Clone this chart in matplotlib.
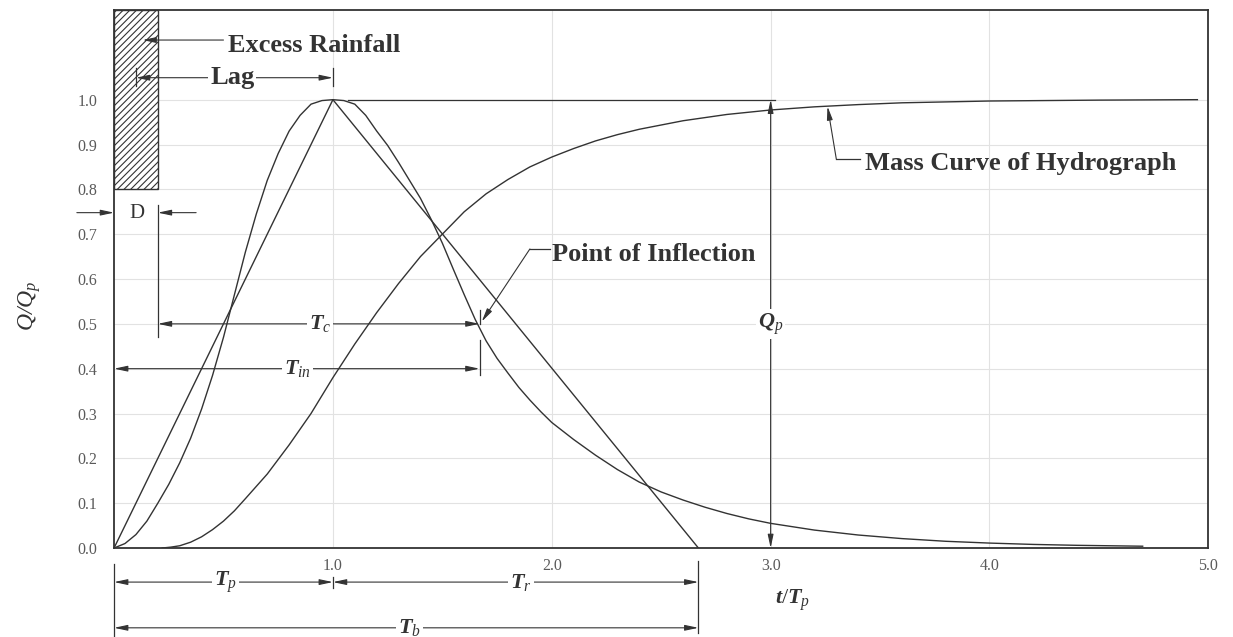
import matplotlib

matplotlib.use("Agg")
import matplotlib.pyplot as plt
from matplotlib.patches import Rectangle

# curvilinear dimensionless unit hydrograph
hydro_t = [0.0, 0.05, 0.1, 0.15, 0.2, 0.25, 0.3, 0.35, 0.4, 0.45, 0.5, 0.55,
           0.6, 0.65, 0.7, 0.75, 0.8, 0.85, 0.9, 0.95, 1.0, 1.05, 1.1, 1.15,
           1.2, 1.25, 1.3, 1.35, 1.4, 1.45, 1.5, 1.55, 1.6, 1.65, 1.7, 1.75,
           1.8, 1.85, 1.9, 1.95, 2.0, 2.1, 2.2, 2.3, 2.4, 2.5, 2.6, 2.7, 2.8,
           2.9, 3.0, 3.2, 3.4, 3.6, 3.8, 4.0, 4.2, 4.4, 4.7]
hydro_q = [0.0, 0.01, 0.03, 0.06, 0.10, 0.142, 0.19, 0.245, 0.31, 0.385,
           0.47, 0.565, 0.66, 0.745, 0.82, 0.88, 0.93, 0.965, 0.99, 0.998,
           1.0, 0.998, 0.99, 0.965, 0.93, 0.898, 0.86, 0.82, 0.78, 0.732,
           0.68, 0.622, 0.565, 0.51, 0.462, 0.423, 0.39, 0.358, 0.33, 0.304,
           0.28, 0.242, 0.207, 0.175, 0.147, 0.125, 0.107, 0.091, 0.077,
           0.065, 0.055, 0.040, 0.029, 0.021, 0.015, 0.011, 0.008, 0.006,
           0.004]

# triangular approximation
tri_t = [0.0, 1.0, 2.67]
tri_q = [0.0, 1.0, 0.0]

# mass curve of the hydrograph
mass_t = [0.22, 0.26, 0.3, 0.35, 0.4, 0.45, 0.5, 0.55, 0.6, 0.7, 0.8, 0.9,
          1.0, 1.1, 1.2, 1.3, 1.4, 1.5, 1.6, 1.7, 1.8, 1.9, 2.0, 2.1, 2.2,
          2.3, 2.4, 2.6, 2.8, 3.0, 3.2, 3.4, 3.6, 3.8, 4.0, 4.5, 4.95]
mass_q = [0.0, 0.002, 0.005, 0.013, 0.025, 0.041, 0.06, 0.083, 0.11, 0.165,
          0.23, 0.30, 0.38, 0.455, 0.525, 0.59, 0.65, 0.70, 0.75, 0.79,
          0.822, 0.85, 0.872, 0.891, 0.908, 0.922, 0.934, 0.953, 0.967,
          0.977, 0.984, 0.989, 0.993, 0.995, 0.997, 0.999, 1.0]

x_ticks = [1.0, 2.0, 3.0, 4.0, 5.0]
x_tick_labels = ["1.0", "2.0", "3.0", "4.0", "5.0"]
y_ticks = [0.0, 0.1, 0.2, 0.3, 0.4, 0.5, 0.6, 0.7, 0.8, 0.9, 1.0]
y_tick_labels = ["0.0", "0.1", "0.2", "0.3", "0.4", "0.5",
                 "0.6", "0.7", "0.8", "0.9", "1.0"]

rain_d = 0.2        # duration of excess rainfall (t/Tp)
rain_bottom = 0.8
t_base = 2.67       # Tb
t_inflect = 1.67    # point of inflection
mass_arrow_t = 3.26

INK = "#333333"
ARROW = "-|>,head_length=0.8,head_width=0.17"
ARROW2 = "<|-|>,head_length=0.8,head_width=0.17"


def arrow(ax, start, end, style=ARROW):
    ax.annotate("", xy=end, xytext=start, annotation_clip=False, zorder=4,
                arrowprops=dict(arrowstyle=style, lw=0.8, color=INK, fc=INK,
                                shrinkA=0, shrinkB=0))


def seg(ax, xs, ys, lw=0.9):
    ax.plot(xs, ys, color=INK, lw=lw, clip_on=False, zorder=4)


def dimension(ax, x0, x1, y, label, label_x, size=16, weight="normal"):
    arrow(ax, (x1, y), (x0, y), ARROW2)
    ax.text(label_x, y, label, ha="center", va="center", fontsize=size,
            fontweight=weight, color=INK, clip_on=False, zorder=6,
            bbox=dict(fc="white", ec="none", pad=1.5))


def main() -> None:
    plt.rcParams["font.family"] = "Liberation Serif"
    plt.rcParams["mathtext.fontset"] = "custom"
    plt.rcParams["mathtext.rm"] = "Liberation Serif"
    plt.rcParams["mathtext.it"] = "Liberation Serif:style=italic:weight=bold"
    plt.rcParams["mathtext.sf"] = "Liberation Serif:style=italic"
    plt.rcParams["mathtext.bf"] = "Liberation Serif:weight=bold"
    plt.rcParams["hatch.linewidth"] = 0.8
    plt.rcParams["hatch.color"] = INK

    fig = plt.figure(figsize=(12.33, 6.37), dpi=100)
    ax = fig.add_axes([0.0925, 0.1397, 0.8875, 0.8446])

    ax.plot(tri_t, tri_q, color=INK, lw=1.0, zorder=3)
    ax.plot(hydro_t, hydro_q, color=INK, lw=1.0, zorder=3)
    ax.plot(mass_t, mass_q, color=INK, lw=1.0, zorder=3)

    ax.set_xlim(0, 5)
    ax.set_ylim(0, 1.2)
    ax.set_xticks(x_ticks, x_tick_labels)
    ax.set_yticks(y_ticks, y_tick_labels)
    ax.tick_params(axis="both", length=0, labelsize=11.5, labelcolor="#5a5a5a")
    ax.tick_params(axis="x", pad=7)
    ax.tick_params(axis="y", pad=12)
    ax.grid(True, color="#e2e2e2", lw=0.8)
    ax.set_axisbelow(True)
    for sp in ax.spines.values():
        sp.set_color(INK)
        sp.set_linewidth(1.3)

    # excess rainfall block
    ax.add_patch(Rectangle((0, rain_bottom), rain_d, 1.2 - rain_bottom,
                           fc="white", ec=INK, lw=1.0, hatch="/////", zorder=2))
    arrow(ax, (0.50, 1.133), (0.13, 1.133))
    ax.text(0.52, 1.12, "Excess Rainfall", fontsize=19, fontweight="bold",
            color=INK, va="center", ha="left")

    # lag
    dimension(ax, rain_d / 2, 1.0, 1.049, "Lag", 0.54, size=19, weight="bold")
    seg(ax, [rain_d / 2, rain_d / 2], [1.03, 1.07])
    seg(ax, [1.0, 1.0], [1.03, 1.07])

    # D
    ax.text(0.105, 0.745, "D", fontsize=15, color=INK, ha="center", va="center")
    arrow(ax, (-0.17, 0.748), (0.0, 0.748))
    arrow(ax, (0.375, 0.748), (rain_d, 0.748))
    seg(ax, [rain_d, rain_d], [0.47, 0.766])

    # Tc and Tin
    dimension(ax, rain_d, t_inflect, 0.5, r"$T_{\mathsf{c}}$", 0.94)
    seg(ax, [t_inflect, t_inflect], [0.5, 0.53])
    dimension(ax, 0.0, t_inflect, 0.4, r"$T_{\mathsf{in}}$", 0.84)
    seg(ax, [t_inflect, t_inflect], [0.385, 0.465])

    # point of inflection
    seg(ax, [1.90, 1.99], [0.667, 0.667])
    arrow(ax, (1.90, 0.667), (1.68, 0.505))
    ax.text(2.0, 0.654, "Point of Inflection", fontsize=19, fontweight="bold",
            color=INK, va="center", ha="left")

    # Qp
    seg(ax, [1.07, 3.02], [1.0, 1.0])
    arrow(ax, (3.0, 0.5), (3.0, 1.0))
    arrow(ax, (3.0, 0.5), (3.0, 0.0))
    ax.text(3.0, 0.5, r"$Q_{\mathsf{p}}$", fontsize=16, color=INK, ha="center",
            va="center", zorder=6, bbox=dict(fc="white", ec="none", pad=1.5))

    # mass curve label
    seg(ax, [mass_arrow_t + 0.04, mass_arrow_t + 0.15], [0.868, 0.868])
    arrow(ax, (mass_arrow_t + 0.04, 0.868), (mass_arrow_t, 0.985))
    ax.text(3.43, 0.857, "Mass Curve of Hydrograph", fontsize=19,
            fontweight="bold", color=INK, va="center", ha="left")

    # dimensions below the axis
    seg(ax, [0.0, 0.0], [-0.035, -0.2])
    seg(ax, [t_base, t_base], [-0.03, -0.19])
    dimension(ax, 0.0, 1.0, -0.076, r"$T_{\mathsf{p}}$", 0.51)
    dimension(ax, 1.0, t_base, -0.076, r"$T_{\mathsf{r}}$", 1.86)
    seg(ax, [1.0, 1.0], [-0.064, -0.09])
    dimension(ax, 0.0, t_base, -0.178, r"$T_{\mathsf{b}}$", 1.35)

    ax.text(3.1, -0.116, r"$t/T_{\mathsf{p}}$", fontsize=16, color=INK,
            ha="center", va="center", clip_on=False)
    ax.text(-0.077, 0.54, r"$\mathsf{Q/Q}_{\mathsf{p}}$", fontsize=17,
            color=INK, rotation=90, ha="center", va="center",
            transform=ax.get_yaxis_transform())

    fig.savefig("out.png", dpi=100)


if __name__ == "__main__":
    main()
